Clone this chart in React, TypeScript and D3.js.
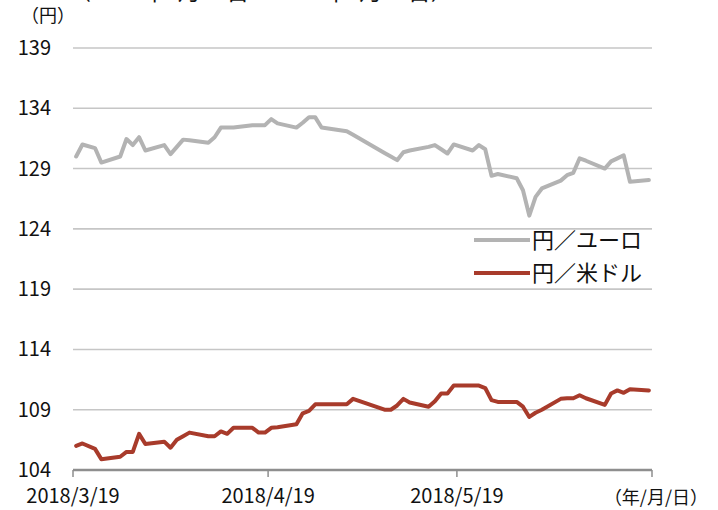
import React from "react";
import * as d3 from "d3";

const dates: string[] = [
  "2018-03-19","2018-03-20","2018-03-22","2018-03-23","2018-03-26","2018-03-27","2018-03-28","2018-03-29","2018-03-30",
  "2018-04-02","2018-04-03","2018-04-04","2018-04-05","2018-04-06","2018-04-09","2018-04-10","2018-04-11","2018-04-12","2018-04-13",
  "2018-04-16","2018-04-17","2018-04-18","2018-04-19","2018-04-20","2018-04-23","2018-04-24","2018-04-25","2018-04-26","2018-04-27",
  "2018-05-01","2018-05-02","2018-05-07","2018-05-08","2018-05-09","2018-05-10","2018-05-11","2018-05-14","2018-05-15","2018-05-16",
  "2018-05-17","2018-05-18","2018-05-21","2018-05-22","2018-05-23","2018-05-24","2018-05-25","2018-05-28","2018-05-29","2018-05-30",
  "2018-05-31","2018-06-01","2018-06-04","2018-06-05","2018-06-06","2018-06-07","2018-06-08","2018-06-11","2018-06-12","2018-06-13",
  "2018-06-14","2018-06-15","2018-06-18"
];

const jpyEur: number[] = [
  130.0,131.0,130.7,129.5,130.0,131.45,130.95,131.6,130.5,
  130.95,130.2,130.8,131.4,131.35,131.15,131.6,132.4,132.4,132.4,
  132.6,132.6,132.6,133.1,132.75,132.4,132.8,133.25,133.25,132.4,
  132.1,131.8,130.3,130.0,129.7,130.35,130.5,130.8,130.95,130.6,
  130.25,131.0,130.5,130.95,130.6,128.4,128.55,128.2,127.2,125.1,
  126.65,127.35,128.0,128.45,128.65,129.85,129.65,129.0,129.6,129.85,
  130.1,127.9,128.05
];

const jpyUsd: number[] = [
  106.0,106.2,105.75,104.9,105.1,105.5,105.5,107.0,106.15,
  106.35,105.85,106.5,106.8,107.1,106.8,106.8,107.2,107.0,107.5,
  107.5,107.1,107.1,107.5,107.55,107.8,108.7,108.9,109.45,109.45,
  109.45,109.9,109.0,109.0,109.35,109.9,109.6,109.25,109.7,110.35,
  110.35,111.0,111.0,111.0,110.8,109.8,109.65,109.65,109.25,108.4,
  108.75,109.0,109.9,109.95,109.95,110.2,109.95,109.4,110.35,110.6,
  110.4,110.7,110.6
];

const yTicks: number[] = [104, 109, 114, 119, 124, 129, 134, 139];
const xTickDates: string[] = ["2018-03-19", "2018-04-19", "2018-05-19", "2018-06-19"];
const xTickLabels: string[] = ["2018/3/19", "2018/4/19", "2018/5/19", ""];
const seriesNames: string[] = ["円／ユーロ", "円／米ドル"];
const seriesColors: string[] = ["#b3b3b3", "#a83b2b"];

const W = 718;
const H = 510;
const FONT = "'Noto Sans CJK JP', 'Noto Sans', sans-serif";

const parse = (s: string) => {
  const [y, m, d] = s.split("-").map(Number);
  return new Date(y, m - 1, d);
};

export default function App() {
  const x = d3
    .scaleTime()
    .domain([parse(xTickDates[0]), parse(xTickDates[xTickDates.length - 1])])
    .range([73, 652]);
  const y = d3.scaleLinear().domain([104, 139]).range([470, 48]);

  const mid = (s: string) => {
    const d = parse(s);
    return new Date(d.getTime() + 12 * 3600 * 1000);
  };

  const line = d3
    .line<number>()
    .x((_, i) => x(mid(dates[i])))
    .y((v) => y(v))
    .curve(d3.curveLinear);

  const series = [jpyEur, jpyUsd];

  return (
    <svg
      width={W}
      height={H}
      style={{ position: "absolute", left: 0, top: 0, background: "#fff" }}
      fontFamily={FONT}
    >
      <rect x={0} y={0} width={W} height={H} fill="#fff" />
      {/* cut-off title at top */}
      <text x={68} y={-0.5} fontSize={23} fill="#111">
        （2018年3月19日～2018年6月18日）
      </text>
      <text x={21} y={22} fontSize={18} fill="#111">
        （円）
      </text>

      {/* grid lines */}
      {yTicks.slice(1).map((t) => (
        <line
          key={t}
          x1={73}
          x2={652}
          y1={y(t)}
          y2={y(t)}
          stroke="#c6c6c6"
          strokeWidth={1.6}
        />
      ))}
      {/* y tick labels */}
      {yTicks.map((t) => (
        <text
          key={"l" + t}
          x={51}
          y={y(t) + 7}
          fontSize={20}
          textAnchor="end"
          fill="#111"
        >
          {t}
        </text>
      ))}

      {/* x axis */}
      <line x1={73} x2={652} y1={470} y2={470} stroke="#8e8e8e" strokeWidth={2.5} />
      {xTickDates.map((d, i) => (
        <g key={d}>
          <line
            x1={x(parse(d))}
            x2={x(parse(d))}
            y1={470}
            y2={477}
            stroke="#8e8e8e"
            strokeWidth={1.5}
          />
          {xTickLabels[i] && (
            <text
              x={x(parse(d))}
              y={503}
              fontSize={20}
              textAnchor="middle"
              fill="#111"
            >
              {xTickLabels[i]}
            </text>
          )}
        </g>
      ))}
      <text x={708} y={504} fontSize={18} textAnchor="end" fill="#111">
        （年/月/日）
      </text>

      {/* series */}
      {series.map((s, k) => (
        <path
          key={k}
          d={line(s) || ""}
          fill="none"
          stroke={seriesColors[k]}
          strokeWidth={4}
          strokeLinejoin="round"
          strokeLinecap="round"
        />
      ))}

      {/* legend */}
      {seriesNames.map((n, k) => (
        <g key={n} transform={`translate(0, ${240 + k * 33})`}>
          <line x1={474} x2={530} y1={0} y2={0} stroke={seriesColors[k]} strokeWidth={4} />
          <text x={532} y={8} fontSize={22} fill="#111">
            {n}
          </text>
        </g>
      ))}
    </svg>
  );
}
